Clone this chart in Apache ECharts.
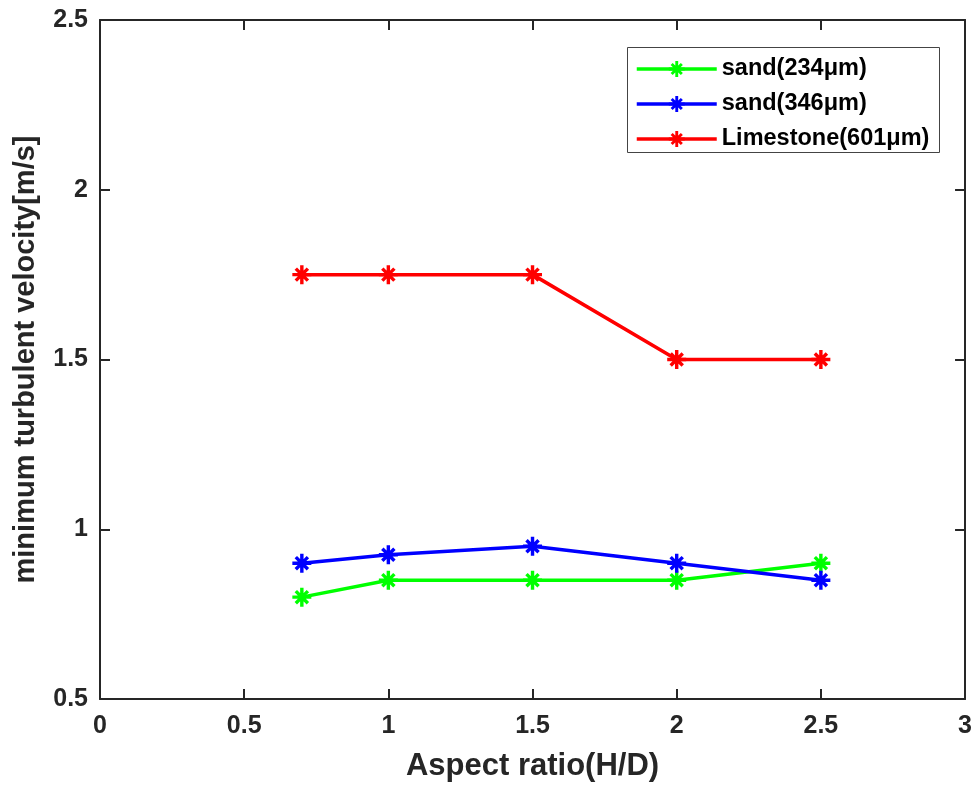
<!DOCTYPE html>
<html>
<head>
<meta charset="utf-8">
<script src="https://cdn.jsdelivr.net/npm/echarts@6/dist/echarts.min.js"></script>
<style>html,body{margin:0;padding:0;background:#fff;}#c{width:975px;height:787px;}</style>
</head>
<body>
<div id="c"></div>
<script>
const aspectRatio = [0.7, 1, 1.5, 2, 2.5];
const sand234 = [0.8, 0.85, 0.85, 0.85, 0.9];
const sand346 = [0.9, 0.925, 0.95, 0.9, 0.85];
const limestone601 = [1.75, 1.75, 1.75, 1.5, 1.5];
const seriesNames = ['sand(234μm)', 'sand(346μm)', 'Limestone(601μm)'];
const seriesColors = ['#00ff00', '#0000ff', '#ff0000'];

const star = 'path://M8.2 0L11.8 0L11.8 20L8.2 20Z M0 8.2L20 8.2L20 11.8L0 11.8Z M4.91 2.37L17.63 15.09L15.09 17.63L2.37 4.91Z M2.37 15.09L15.09 2.37L17.63 4.91L4.91 17.63Z';

function pairs(ys){ return aspectRatio.map((x,i)=>[x, ys[i]]); }
const values = [sand234, sand346, limestone601];

const chart = echarts.init(document.getElementById('c'), null, {renderer:'canvas'});
const axisColor = '#262626';
const font = 'Liberation Sans, Arial, sans-serif';
const lineCommon = {show: true, onZero: false, lineStyle: {color: axisColor, width: 2}};
const tickCommon = {show: true, inside: true, length: 10, lineStyle: {color: axisColor, width: 2}};
const option = {
  animation: false,
  backgroundColor: '#fff',
  grid: {left: 100, right: 8, top: 20, bottom: 83, containLabel: false},
  xAxis: [{
    type: 'value', min: 0, max: 3, interval: 0.5,
    name: 'Aspect ratio(H/D)', nameLocation: 'middle', nameGap: 52,
    nameTextStyle: {fontFamily: font, fontWeight: 'bold', fontSize: 31, color: axisColor},
    axisLine: lineCommon, axisTick: tickCommon,
    axisLabel: {fontFamily: font, fontWeight: 'bold', fontSize: 25, color: axisColor, margin: 15},
    splitLine: {show: false}
  }, {
    type: 'value', min: 0, max: 3, interval: 0.5, position: 'top',
    axisLine: lineCommon, axisTick: tickCommon,
    axisLabel: {show: false}, splitLine: {show: false}
  }],
  yAxis: [{
    type: 'value', min: 0.5, max: 2.5, interval: 0.5,
    name: 'minimum turbulent velocity[m/s]', nameLocation: 'middle', nameGap: 60,
    nameTextStyle: {fontFamily: font, fontWeight: 'bold', fontSize: 29, color: axisColor},
    axisLine: lineCommon, axisTick: tickCommon,
    axisLabel: {fontFamily: font, fontWeight: 'bold', fontSize: 25, color: axisColor, margin: 12},
    splitLine: {show: false}
  }, {
    type: 'value', min: 0.5, max: 2.5, interval: 0.5, position: 'right',
    axisLine: lineCommon, axisTick: tickCommon,
    axisLabel: {show: false}, splitLine: {show: false}
  }],
  legend: {
    orient: 'vertical', left: 635, top: 57, itemGap: 11,
    itemWidth: 80, itemHeight: 20, padding: 0,
    lineStyle: {width: 3.5},
    textStyle: {fontFamily: font, fontWeight: 'bold', fontSize: 23.5, color: '#000'},
    data: seriesNames
  },
  graphic: [{
    type: 'rect', shape: {x: 627.5, y: 47.5, width: 312, height: 105},
    style: {fill: 'none', stroke: '#444', lineWidth: 1}, z: 100
  }],
  series: values.map((v,i)=>({
    name: seriesNames[i], type: 'line', data: pairs(v),
    symbol: star, symbolSize: 19,
    lineStyle: {color: seriesColors[i], width: 3.5},
    itemStyle: {color: seriesColors[i]},
    emphasis: {disabled: true}
  }))
};
chart.setOption(option);
</script>
</body>
</html>
